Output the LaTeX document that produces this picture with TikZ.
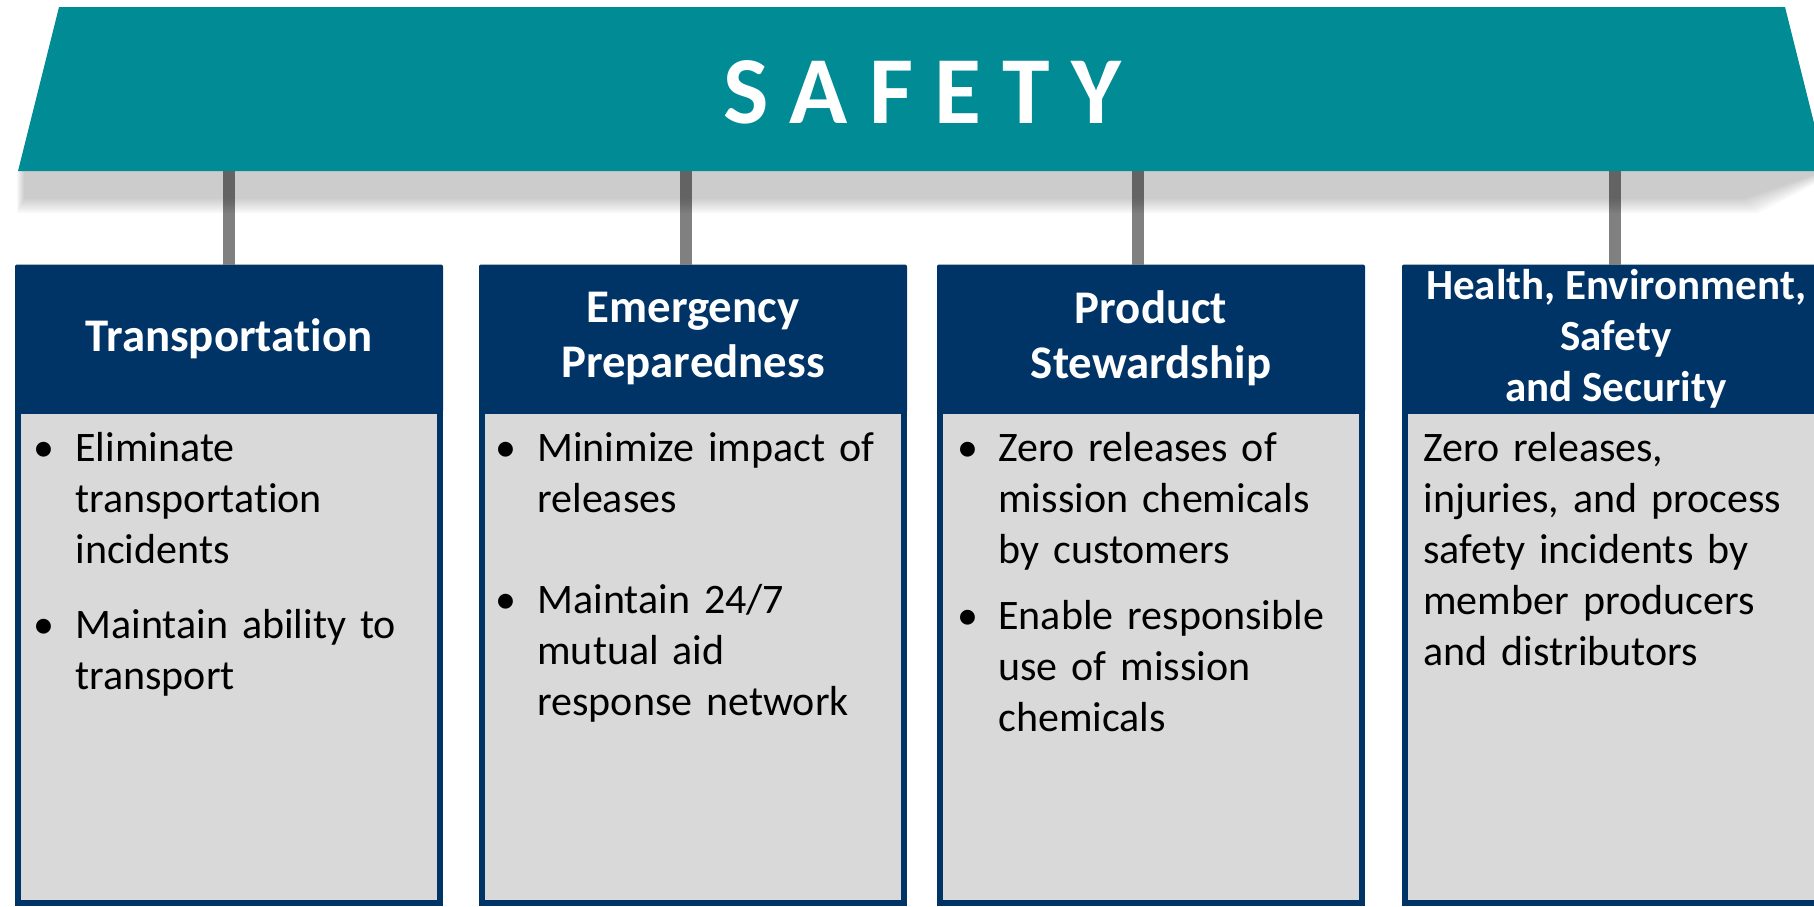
\documentclass[tikz,border=0pt]{standalone}
\usepackage{fontspec}
\setmainfont{Carlito}[Ligatures={NoCommon,NoContextual,NoRequired},Contextuals=NoAlternate]
\usetikzlibrary{positioning}
\definecolor{bannerteal}{HTML}{008B95}
\definecolor{pillarnavy}{HTML}{003466}
\definecolor{bodygray}{HTML}{D9D9D9}
\definecolor{polegray}{HTML}{808080}
\tikzset{
  hdbox/.style={fill=pillarnavy, text=white, rounded corners=1pt, inner sep=0pt, outer sep=0pt,
    minimum width=214pt, minimum height=74pt, align=center,
    font=\bfseries\fontsize{23.4}{27.5}\selectfont},
  bdbox/.style={fill=bodygray, draw=pillarnavy, line width=2.75pt, anchor=north west,
    inner sep=0pt, outer sep=0pt, minimum width=211pt, minimum height=246pt},
  itemtext/.style={anchor=base west, inner sep=0pt, text width=190pt, align=left,
    font=\fontsize{21}{25.5}\selectfont},
  bulletmark/.style={anchor=base, inner sep=0pt, font=\fontsize{21}{25.5}\selectfont},
  pole/.style={draw=polegray, line width=6pt}
}
\begin{document}
\begin{tikzpicture}[x=0.5pt,y=-0.5pt]
\clip (0,0) rectangle (1814,906);

\coordinate (t1) at (229,171);
\coordinate (t2) at (686,171);
\coordinate (t3) at (1138,171);
\coordinate (t4) at (1615,171);

\node[hdbox] (hd1) at (229,338.5)  {Transportat\kern0pt ion};
\node[hdbox] (hd2) at (693,338.5)  {Emergency\\Preparedness};
\node[hdbox] (hd3) at (1151,338.5) {Product\\Stewardship};
\node[hdbox,font=\bfseries\fontsize{21.5}{25.5}\selectfont]
             (hd4) at (1616,338.5) {Health, Environment,\\Safety\\and Security};

\draw[pole] (t1) -- (t1 |- hd1.north);
\draw[pole] (t2) -- (t2 |- hd2.north);
\draw[pole] (t3) -- (t3 |- hd3.north);
\draw[pole] (t4) -- (t4 |- hd4.north);

% soft shadow under the banner
\foreach \d in {0,2,...,14}
  \fill[black,opacity=0.028] (24-0.5*\d,171) -- (1826+\d,171) -- (1744+\d,199+\d) -- (24-0.5*\d,199+\d) -- cycle;

\fill[bannerteal] (59,7) -- (1785,7) -- (1826,171) -- (18,171) -- cycle;
\node[text=white,font=\bfseries\fontsize{48}{50}\selectfont] (safety) at (922,92)
  {S\hspace{10.6pt}A\hspace{10.6pt}F\hspace{10.6pt}E\hspace{10.6pt}T\hspace{10.6pt}Y};

\node[bdbox] (bd1) at (18,411)   {};
\node[bdbox] (bd2) at (482,411)  {};
\node[bdbox] (bd3) at (940,411)  {};
\node[bdbox] (bd4) at (1405,411) {};

\node[bulletmark] (b1a) at (44,461)  {\textbullet};
\node[itemtext]   (i1a) at (75,461)  {Eliminate\\transportat\kern0pt ion\\incidents};
\node[bulletmark] (b1b) at (44,638)  {\textbullet};
\node[itemtext]   (i1b) at (75,638)  {Maintain ability to\\transport};

\node[bulletmark] (b2a) at (506,461) {\textbullet};
\node[itemtext]   (i2a) at (537,461) {Minimize impact of\\releases};
\node[bulletmark] (b2b) at (506,613) {\textbullet};
\node[itemtext]   (i2b) at (537,613) {Maintain 24/7\\mutual aid\\response network};

\node[bulletmark] (b3a) at (968,461) {\textbullet};
\node[itemtext]   (i3a) at (998,461) {Zero releases of\\mission chemicals\\by customers};
\node[bulletmark] (b3b) at (968,629) {\textbullet};
\node[itemtext]   (i3b) at (998,629) {Enable responsible\\use of mission\\chemicals};

\node[itemtext]   (i4a) at (1423,461) {Zero releases,\\injuries, and process\\safety incidents by\\member producers\\and distributors};
\end{tikzpicture}
\end{document}
